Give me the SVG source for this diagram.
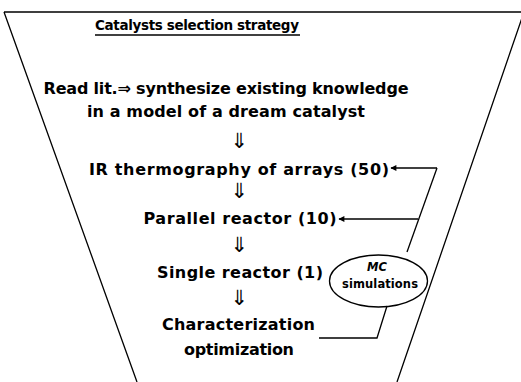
<svg xmlns="http://www.w3.org/2000/svg" width="521" height="382" viewBox="0 0 521 382">
<style>
.t{font-family:"DejaVu Sans","Liberation Sans",sans-serif;font-weight:bold;fill:#000;text-anchor:middle}
.m{font-size:16px}
.d{font-family:"DejaVu Sans",sans-serif;font-size:21px;fill:#000;text-anchor:middle}
.ln{fill:none;stroke:#000;stroke-width:1.3}
.ar{fill:none;stroke:#000;stroke-width:1.6}
</style>
<defs>
<marker id="ah" viewBox="0 0 10 10" refX="9" refY="5" markerWidth="8" markerHeight="6" orient="auto" markerUnits="userSpaceOnUse">
<path d="M0,0 L10,5 L0,10 Z" fill="#000"/>
</marker>
</defs>
<rect width="521" height="382" fill="#fff"/>
<g id="funnel">
<path class="ln" d="M4,12 L521,12 M4,12 L137,382 M524,12 L397,382"/>
</g>
<g id="title">
<text class="t" x="197" y="30" font-size="13.5" textLength="204">Catalysts selection strategy</text>
<line x1="95" y1="35" x2="300" y2="35" stroke="#000" stroke-width="1.3"/>
</g>
<g id="read">
<text class="t m" x="226" y="94" textLength="365">Read lit.⇒ synthesize existing knowledge</text>
<text class="t m" x="226" y="117" textLength="278">in a model of a dream catalyst</text>
</g>
<g id="ir">
<text class="t m" x="239" y="175" textLength="300">IR thermography of arrays (50)</text>
</g>
<g id="parallel">
<text class="t m" x="240" y="224" textLength="193">Parallel reactor (10)</text>
</g>
<g id="single">
<text class="t m" x="240" y="278" textLength="166">Single reactor (1)</text>
</g>
<g id="charact">
<text class="t m" x="238.5" y="330" textLength="153">Characterization</text>
<text class="t m" x="239" y="355" textLength="110">optimization</text>
</g>
<g id="mc">
<ellipse cx="378.5" cy="281" rx="49" ry="26" class="ln"/>
<text class="t" x="377" y="271" font-size="11.5" font-style="italic">MC</text>
<text class="t" x="380" y="288" font-size="11.5" textLength="76">simulations</text>
</g>
<g id="connectors">
<text class="d" x="239" y="148">⇓</text>
<text class="d" x="239" y="198">⇓</text>
<text class="d" x="239" y="252">⇓</text>
<text class="d" x="239" y="305">⇓</text>
<path class="ar" d="M437,168 L391,168" marker-end="url(#ah)"/>
<path class="ar" d="M418,219 L339,219" marker-end="url(#ah)"/>
<path class="ln" d="M437,168 L407,252"/>
<path class="ln" d="M319,338 L377,338 L387,306"/>
</g>
</svg>
